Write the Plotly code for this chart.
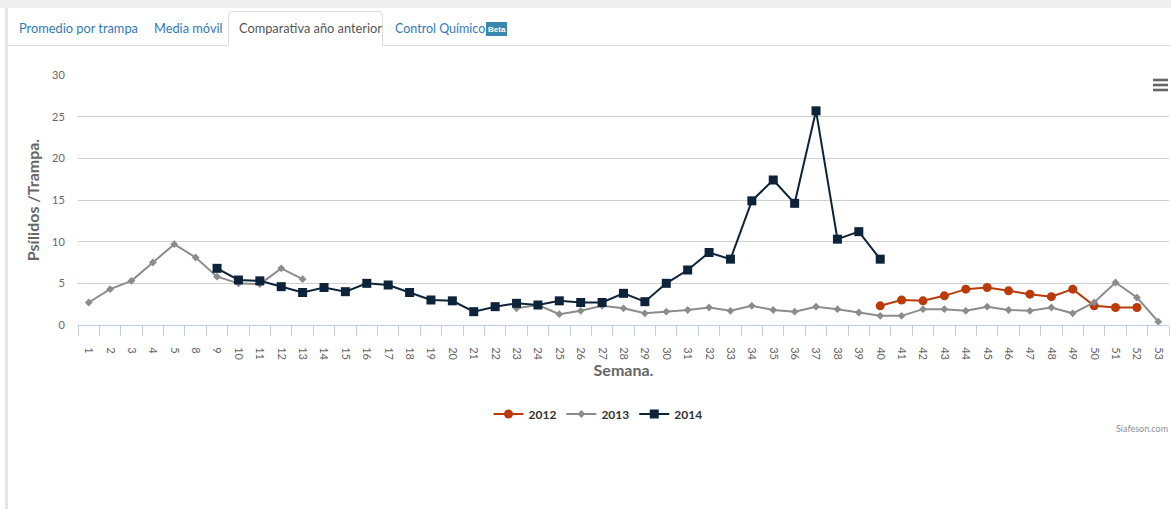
import plotly.graph_objects as go

weeks = ["1", "2", "3", "4", "5", "8", "9", "10", "11", "12", "13", "14", "15", "16",
         "17", "18", "19", "20", "21", "22", "23", "24", "25", "26", "27", "28", "29",
         "30", "31", "32", "33", "34", "35", "36", "37", "38", "39", "40", "41", "42",
         "43", "44", "45", "46", "47", "48", "49", "50", "51", "52", "53"]

N = None
# weeks 1..5, 8..53 (51 categories)
y2012 = [N, N, N, N, N, N, N, N, N, N, N, N, N, N, N, N, N, N, N, N, N, N, N, N, N, N, N,
         N, N, N, N, N, N, N, N, N, N,
         2.3, 3.0, 2.9, 3.5, 4.3, 4.5, 4.1, 3.7, 3.4, 4.3, 2.3, 2.1, 2.1, N]
y2013 = [2.7, 4.3, 5.3, 7.5, 9.7, 8.1, 5.8, 5.0, 4.9, 6.8, 5.5,
         N, N, N, N, N, N, N, N, N,
         2.0, 2.4, 1.3, 1.7, 2.3, 2.0, 1.4, 1.6, 1.8, 2.1, 1.7, 2.3, 1.8, 1.6, 2.2, 1.9,
         1.5, 1.1, 1.1, 1.9, 1.9, 1.7, 2.2, 1.8, 1.7, 2.1, 1.4, 2.7, 5.1, 3.3, 0.4]
y2014 = [N, N, N, N, N, N,
         6.8, 5.4, 5.3, 4.6, 3.9, 4.5, 4.0, 5.0, 4.8, 3.9, 3.0, 2.9, 1.6, 2.2, 2.6, 2.4,
         2.9, 2.7, 2.7, 3.8, 2.8, 5.0, 6.6, 8.7, 7.9, 14.9, 17.4, 14.6, 25.7, 10.3, 11.2, 7.9,
         N, N, N, N, N, N, N, N, N, N, N, N, N]

series_names = ["2012", "2013", "2014"]
series_colors = ["#BB3A0A", "#8C8C8C", "#0D233A"]
series_symbols = ["circle", "diamond", "square"]
series_sizes = [9, 6, 9]
tabs = ["Promedio por trampa", "Media móvil", "Comparativa año anterior", "Control Químico"]
y_ticks = [0, 5, 10, 15, 20, 25, 30]

W, H = 1171, 509
L, R, T, B = 78, 1169, 75, 325


def px(x):
    return (x - L) / (R - L)


def py(y):
    return (B - y) / (B - T)


fig = go.Figure()
for name, ys, col, sym, sz in zip(series_names, [y2012, y2013, y2014],
                                  series_colors, series_symbols, series_sizes):
    fig.add_trace(go.Scatter(
        x=weeks, y=ys, name=name, mode="lines+markers",
        line=dict(color=col, width=2),
        marker=dict(color=col, symbol=sym, size=sz),
        connectgaps=False,
    ))

shapes = []
# outer gray bands
shapes.append(dict(type="rect", xref="paper", yref="paper", x0=px(0), x1=px(W),
                   y0=py(0), y1=py(8), fillcolor="#efefef", line=dict(width=0), layer="below"))
shapes.append(dict(type="rect", xref="paper", yref="paper", x0=px(5), x1=px(8),
                   y0=py(8), y1=py(H), fillcolor="#e6e6e6", line=dict(width=0), layer="below"))
# tab bottom line, interrupted by active tab
for xa, xb in [(8, 228), (382, W)]:
    shapes.append(dict(type="line", xref="paper", yref="paper", x0=px(xa), x1=px(xb),
                       y0=py(45.5), y1=py(45.5), line=dict(color="#dddddd", width=1)))
# active tab outline
x0a, x1a, yt, yb = px(228.5), px(382.5), py(11.5), py(45.5)
rx = 4 / (R - L)
ry = 4 / (B - T)
path = (f"M {x0a},{yb} L {x0a},{yt - ry} Q {x0a},{yt} {x0a + rx},{yt} "
        f"L {x1a - rx},{yt} Q {x1a},{yt} {x1a},{yt - ry} L {x1a},{yb}")
shapes.append(dict(type="path", xref="paper", yref="paper", path=path,
                   line=dict(color="#dddddd", width=1)))
# Beta badge
shapes.append(dict(type="rect", xref="paper", yref="paper", x0=px(486), x1=px(507),
                   y0=py(22), y1=py(36), fillcolor="#3A87AD", line=dict(width=0)))
# hamburger menu icon
for yy in [80, 85, 90]:
    shapes.append(dict(type="rect", xref="paper", yref="paper", x0=px(1153), x1=px(1168),
                       y0=py(yy - 1.3), y1=py(yy + 1.3), fillcolor="#666666",
                       line=dict(width=0)))

tab_font = "Lato, Roboto, Liberation Sans, Arial"
annotations = []
tab_x = [17, 152, 237, 393]
tab_colors = ["#337AB7", "#337AB7", "#555555", "#337AB7"]
tab_sizes = [12.8, 12.8, 12.8, 12.5]
for t, xx, c, fs in zip(tabs, tab_x, tab_colors, tab_sizes):
    annotations.append(dict(text=t, xref="paper", yref="paper", x=px(xx), y=py(28),
                            xanchor="left", yanchor="middle", showarrow=False,
                            font=dict(family=tab_font, size=fs, color=c)))
annotations.append(dict(text="<b>Beta</b>", xref="paper", yref="paper", x=px(496.5), y=py(29),
                        xanchor="center", yanchor="middle", showarrow=False,
                        font=dict(family="Liberation Sans, Arial", size=8, color="white")))
annotations.append(dict(text="Siafeson.com", xref="paper", yref="paper", x=px(1170), y=py(428),
                        xanchor="right", yanchor="middle", showarrow=False,
                        font=dict(family="Lato, Arial", size=9, color="#909090")))

fig.update_layout(
    width=W, height=H,
    margin=dict(l=L, r=W - R, t=T, b=H - B, autoexpand=False),
    paper_bgcolor="white", plot_bgcolor="white",
    font=dict(family="Lato, Open Sans, Arial", color="#666666"),
    showlegend=True,
    legend=dict(orientation="h", x=px(598), xanchor="center", y=py(414), yanchor="middle",
                font=dict(family="Lato, Arial", size=12, color="#333333", weight="bold"),
                itemclick=False, itemdoubleclick=False, bgcolor="rgba(0,0,0,0)"),
    xaxis=dict(type="category", categoryorder="array", categoryarray=weeks,
               range=[-0.5, len(weeks) - 0.5], showgrid=False, zeroline=False,
               showline=True, linecolor="#C0D0E0", linewidth=1,
               ticks="outside", tickson="boundaries", ticklen=10, tickcolor="#C0D0E0",
               ticklabelstandoff=19,
               tickangle=90, tickfont=dict(family="Lato, Arial", size=11, color="#666666"),
               title=dict(text="<b>Semana.</b>", standoff=5,
                          font=dict(family="Lato, Arial", size=16, color="#666666")),
               fixedrange=True),
    yaxis=dict(range=[0, 30], tickvals=y_ticks, showgrid=True, gridcolor="#D0D0D0",
               gridwidth=1, zeroline=False, showline=False,
               ticks="outside", ticklen=10, tickcolor="rgba(0,0,0,0)",
               tickfont=dict(family="Lato, Arial", size=11, color="#666666"),
               title=dict(text="<b>Psílidos /Trampa.</b>", standoff=8,
                          font=dict(family="Lato, Arial", size=16, color="#666666")),
               fixedrange=True),
    shapes=shapes, annotations=annotations,
)

fig.write_html("out.html", config={"displayModeBar": False},
               post_script="document.body.style.margin='0';document.body.style.padding='0';")
